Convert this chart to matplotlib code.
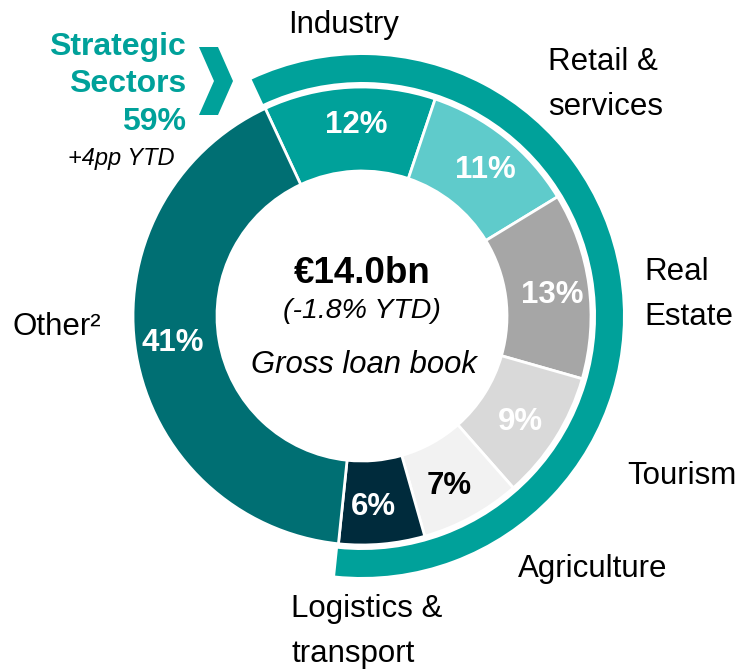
import matplotlib
matplotlib.use("Agg")
import matplotlib.pyplot as plt
from matplotlib.patches import Wedge, Polygon
import numpy as np

plt.rcParams['font.family'] = ['Liberation Sans', 'DejaVu Sans']

# ---- data ----
sectors = ["Industry", "Retail &\nservices", "Real\nEstate", "Tourism",
           "Agriculture", "Logistics &\ntransport", "Other²"]
shares = [12, 11, 13, 9, 7, 6, 41]
strategic = [True, True, True, True, True, True, False]
seg_colors = ["#00A19A", "#5FCBCB", "#A6A6A6", "#D9D9D9", "#F2F2F2", "#002B3C", "#006F73"]
pct_colors = ["white", "white", "white", "white", "black", "white", "white"]
strategic_title = ["Strategic", "Sectors", "59%"]
strategic_change = "+4pp YTD"
total_text = "€14.0bn"
total_change = "(-1.8% YTD)"
center_caption = "Gross loan book"

W, H = 743, 671
fig = plt.figure(figsize=(W / 100, H / 100), dpi=100)
ax = fig.add_axes([0, 0, 1, 1])

def Y(y):
    return H - y

cx, cy = 362, 316
R_out, ring_w = 229, 84
START = 115

wedges, _ = ax.pie(shares, radius=R_out, center=(cx, Y(cy)), startangle=START,
                   counterclock=False, colors=seg_colors,
                   wedgeprops=dict(width=ring_w, edgecolor="white", linewidth=2))

# percentage labels
total = sum(shares)
r_lab = R_out - ring_w / 2 + 4
ang = START
for v, c in zip(shares, pct_colors):
    span = 360 * v / total
    mid = np.deg2rad(ang - span / 2 - 1.5)
    ax.text(cx + r_lab * np.cos(mid), Y(cy) + r_lab * np.sin(mid), f"{v}%",
            ha="center", va="center", fontsize=22.5, fontweight="bold", color=c)
    ang -= span

# outer strategic ring
strat_frac = sum(v for v, s in zip(shares, strategic) if s) / total
end_ang = START - 360 * strat_frac
ax.add_patch(Wedge((cx, Y(cy)), 261, end_ang, START, width=27, facecolor="#00A19A",
                   edgecolor="none"))

# sector labels (x, first baseline, ha)
label_pos = [(344, 33, "center"), (548, 70, "left"), (644, 280, "left"),
             (627, 484, "left"), (518, 577, "left"), (291, 617, "left"), (12, 335, "left")]
for lab, (x, yb, ha) in zip(sectors, label_pos):
    for i, line in enumerate(lab.split("\n")):
        ax.text(x, Y(yb + 45 * i), line, ha=ha, va="baseline", fontsize=22.5, color="black")

# strategic sectors annotation
for i, line in enumerate(strategic_title):
    ax.text(186, Y(55 + 37.5 * i), line, ha="right", va="baseline", fontsize=23,
            fontweight="bold", color="#00A19A")
ax.text(175, Y(165), strategic_change, ha="right", va="baseline", fontsize=17,
        style="italic", color="black")
chev = [(199, 47), (218, 47), (233, 81), (218, 115), (199, 115), (214, 81)]
ax.add_patch(Polygon([(x, Y(y)) for x, y in chev], closed=True, facecolor="#00A19A",
                     edgecolor="none"))

# center text
ax.text(362, Y(283), total_text, ha="center", va="baseline", fontsize=26.5,
        fontweight="bold", color="black")
ax.text(362, Y(318), total_change, ha="center", va="baseline", fontsize=20.5,
        style="italic", color="black")
ax.text(364, Y(373), center_caption, ha="center", va="baseline", fontsize=22.3,
        style="italic", color="black")

ax.set_xlim(0, W)
ax.set_ylim(0, H)
ax.set_aspect("equal")
ax.axis("off")
fig.savefig("out.png", dpi=100)
